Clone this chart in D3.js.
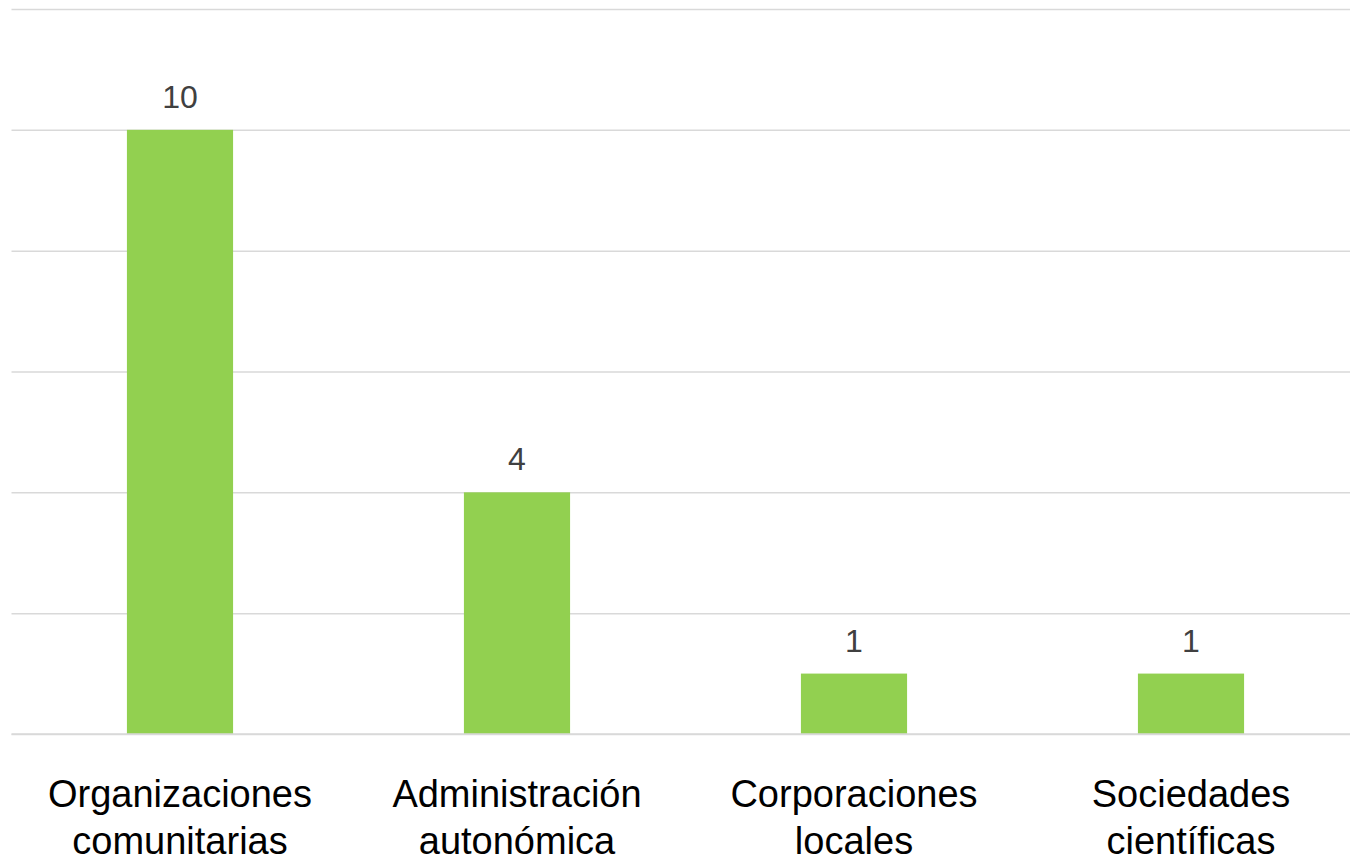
<!DOCTYPE html>
<meta charset="utf-8">
<style>
html, body {
  margin: 0;
  padding: 0;
  background: #fff;
}
.grid line {
  stroke: #d9d9d9;
  stroke-width: 1.5px;
}
.grid path { display: none; }
.bar { fill: #92d050; }
.value {
  font-family: "Liberation Sans", Arial, sans-serif;
  font-size: 32px;
  fill: #404040;
  text-anchor: middle;
}
.cat {
  font-family: "Liberation Sans", Arial, sans-serif;
  font-size: 38px;
  fill: #000;
  text-anchor: middle;
}
</style>
<svg id="chart" width="1350" height="861"></svg>
<script src="https://cdn.jsdelivr.net/npm/d3@7"></script>
<script>

// data
var categories = [
  ["Organizaciones", "comunitarias"],
  ["Administración", "autonómica"],
  ["Corporaciones", "locales"],
  ["Sociedades", "científicas"]
];
var values = [10, 4, 1, 1];
var yTicks = [0, 2, 4, 6, 8, 10, 12];

var svg = d3.select("#chart");

var plotLeft = 11.5, plotRight = 1359.5, plotTop = 9, plotBottom = 734;

var x = d3.scaleBand()
  .domain(d3.range(values.length))
  .range([plotLeft, plotRight])
  .paddingInner(0.685)
  .paddingOuter(0.3425);

var y = d3.scaleLinear()
  .domain([0, 12])
  .range([plotBottom, plotTop]);

// gridlines
svg.append("g")
  .attr("class", "grid")
  .attr("transform", "translate(" + plotLeft + ",0)")
  .call(d3.axisLeft(y).tickValues(yTicks).tickSize(-(1350 - plotLeft)).tickFormat(""));

// bars
svg.selectAll("rect.bar")
  .data(values)
  .enter().append("rect")
    .attr("class", "bar")
    .attr("x", function(d, i) { return x(i); })
    .attr("width", x.bandwidth())
    .attr("y", function(d) { return y(d); })
    .attr("height", function(d) { return y(0) - y(d); });

// baseline over bars
svg.append("line")
  .attr("x1", plotLeft).attr("x2", 1350)
  .attr("y1", y(0)).attr("y2", y(0))
  .attr("stroke", "#d9d9d9")
  .attr("stroke-width", 1.5);

// value labels
svg.selectAll("text.value")
  .data(values)
  .enter().append("text")
    .attr("class", "value")
    .attr("x", function(d, i) { return x(i) + x.bandwidth() / 2; })
    .attr("y", function(d) { return y(d) - 22; })
    .text(function(d) { return d; });

// category labels, two lines each
var cats = svg.selectAll("text.cat")
  .data(categories)
  .enter().append("text")
    .attr("class", "cat")
    .attr("y", 807);

cats.selectAll("tspan")
  .data(function(d, i) { return d.map(function(s) { return {s: s, i: i}; }); })
  .enter().append("tspan")
    .attr("x", function(d) { return x(d.i) + x.bandwidth() / 2; })
    .attr("dy", function(d, j) { return j === 0 ? 0 : 47; })
    .text(function(d) { return d.s; });
</script>
